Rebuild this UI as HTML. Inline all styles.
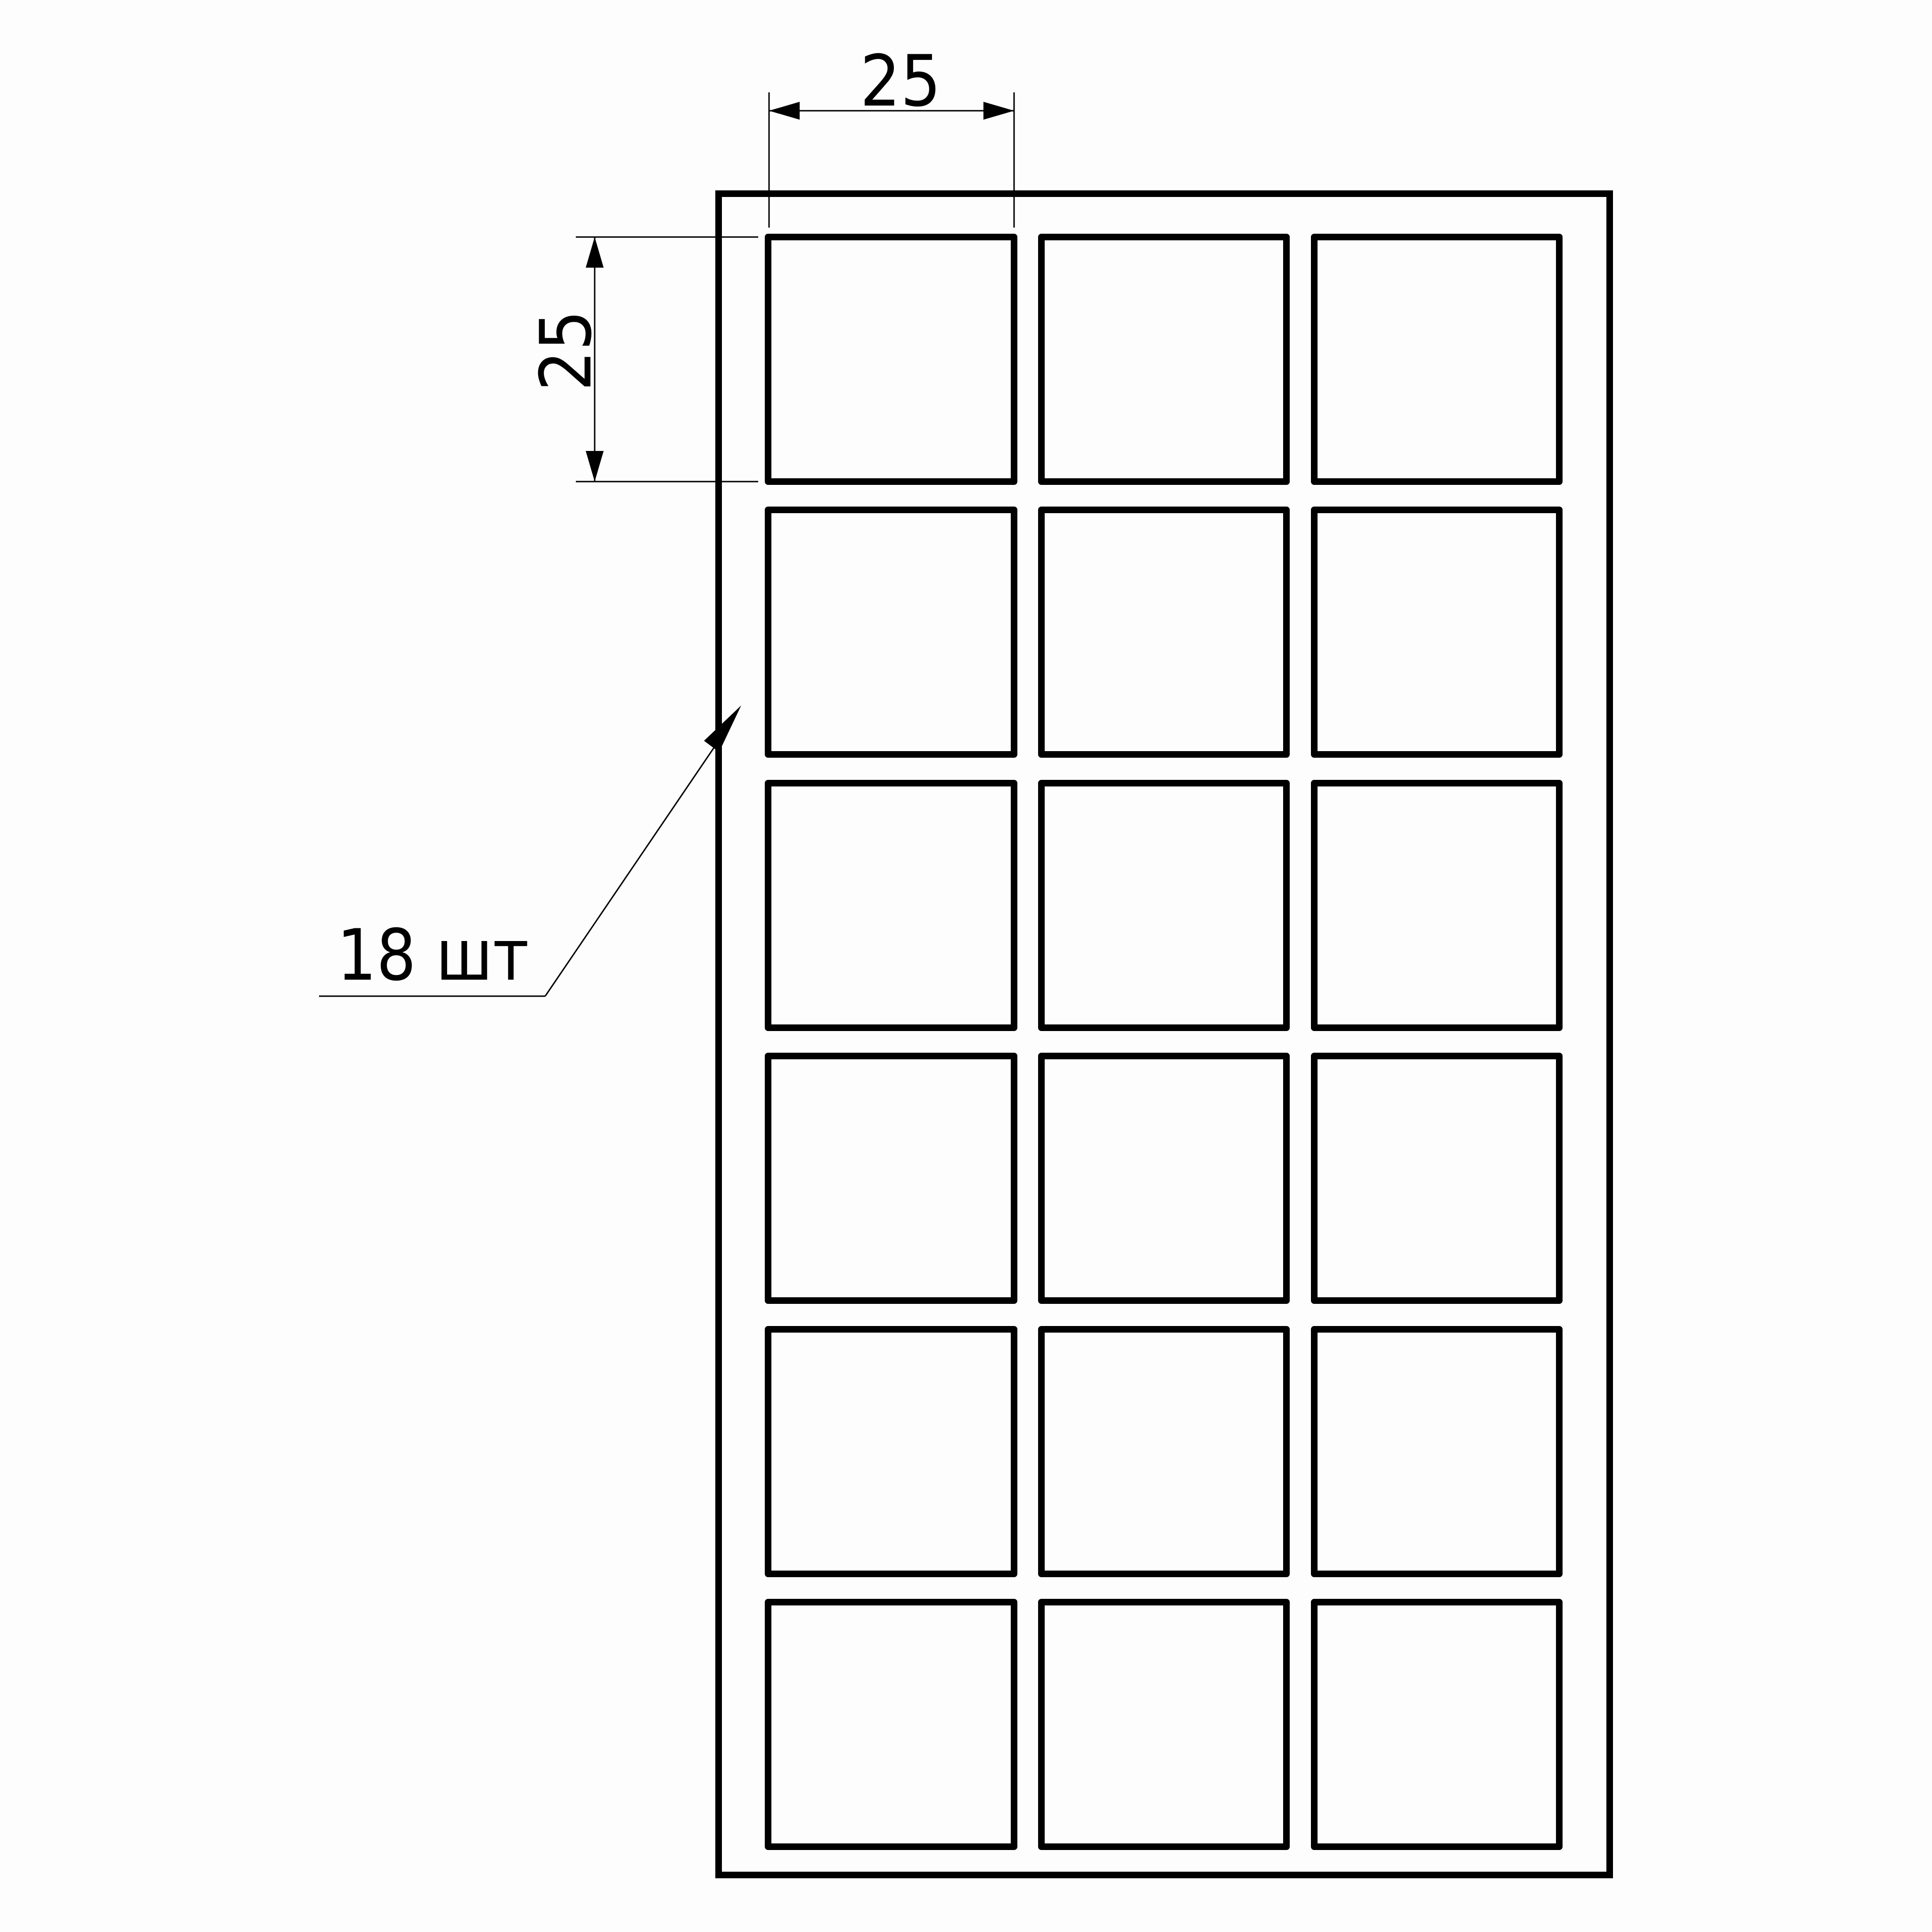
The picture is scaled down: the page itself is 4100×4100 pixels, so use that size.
<!DOCTYPE html>
<html><head><meta charset="utf-8"><style>
html,body{margin:0;padding:0;background:#fff;}
svg{display:block}
text{font-family:"DejaVu Sans","Liberation Sans",sans-serif;fill:#000}
</style></head><body>
<svg width="4100" height="4100" viewBox="0 0 4100 4100" xmlns="http://www.w3.org/2000/svg">
<rect x="0" y="0" width="4100" height="4100" fill="#fdfdfd"/>
<rect x="1525" y="411" width="1891" height="3568" fill="none" stroke="#000" stroke-width="14"/>
<g fill="none" stroke="#000" stroke-width="14" stroke-linejoin="round">
<rect x="1630" y="503" width="522" height="519"/><rect x="2210" y="503" width="520" height="519"/><rect x="2789" y="503" width="520" height="519"/>
<rect x="1630" y="1082" width="522" height="519"/><rect x="2210" y="1082" width="520" height="519"/><rect x="2789" y="1082" width="520" height="519"/>
<rect x="1630" y="1662" width="522" height="519"/><rect x="2210" y="1662" width="520" height="519"/><rect x="2789" y="1662" width="520" height="519"/>
<rect x="1630" y="2241" width="522" height="519"/><rect x="2210" y="2241" width="520" height="519"/><rect x="2789" y="2241" width="520" height="519"/>
<rect x="1630" y="2821" width="522" height="519"/><rect x="2210" y="2821" width="520" height="519"/><rect x="2789" y="2821" width="520" height="519"/>
<rect x="1630" y="3400" width="522" height="519"/><rect x="2210" y="3400" width="520" height="519"/><rect x="2789" y="3400" width="520" height="519"/>
</g>
<g stroke="#000" stroke-width="3" fill="none">
<line x1="1632" y1="196" x2="1632" y2="483"/>
<line x1="2152" y1="196" x2="2152" y2="483"/>
<line x1="1632" y1="235" x2="2152" y2="235"/>
<line x1="1222" y1="503" x2="1609" y2="503"/>
<line x1="1222" y1="1022" x2="1609" y2="1022"/>
<line x1="1262" y1="503" x2="1262" y2="1022"/>
<line x1="677" y1="2114" x2="1157" y2="2114"/>
<line x1="1157" y1="2114" x2="1540" y2="1550"/>
</g>
<g fill="#000">
<polygon points="1632,235 1697,216 1697,254"/>
<polygon points="2152,235 2087,216 2087,254"/>
<polygon points="1262,503 1243,568 1281,568"/>
<polygon points="1262,1022 1243,957 1281,957"/>
<polygon points="1573,1497 1494,1572 1526,1596"/>
</g>
<text transform="translate(1911,224) scale(0.9,1)" font-size="150" text-anchor="middle">25</text>
<text transform="translate(1253,744) rotate(-90) scale(0.9,1)" font-size="150" text-anchor="middle">25</text>
<text transform="translate(715,2079) scale(0.88,1)" font-size="150">18 шт</text>
</svg>
</body></html>
